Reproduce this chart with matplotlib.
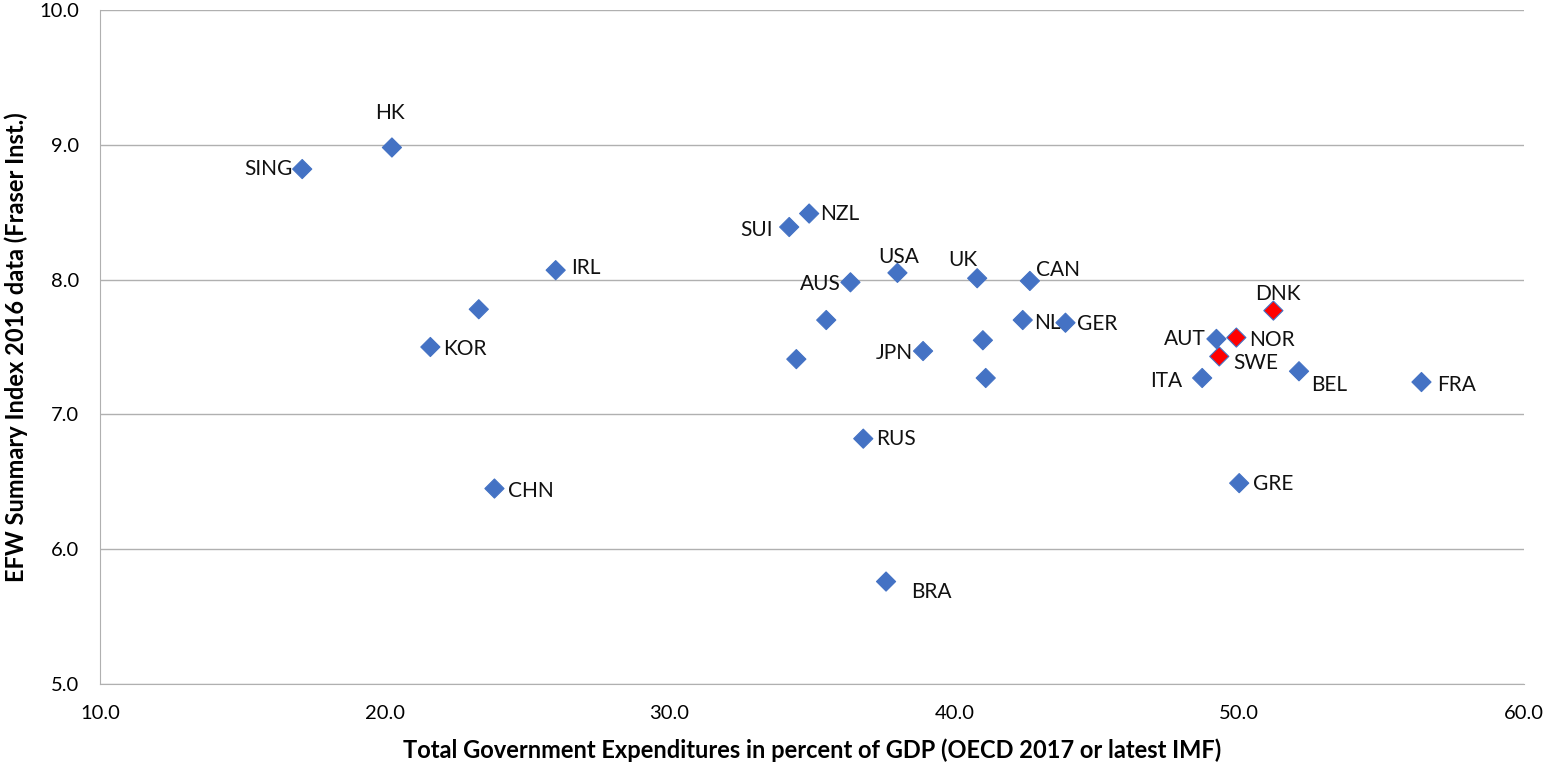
import matplotlib.pyplot as plt

plt.rcParams['font.family'] = ['Lato', 'DejaVu Sans']

# data
countries = ["SING", "HK", "NZL", "SUI", "IRL", "USA", "UK", "CAN", "AUS", "", "DNK",
             "NL", "", "GER", "NOR", "AUT", "", "KOR", "JPN", "SWE", "", "BEL", "ITA",
             "", "FRA", "RUS", "GRE", "CHN", "BRA"]
gov_exp = [17.1, 20.25, 34.9, 34.2, 26.0, 38.0, 40.8, 42.65, 36.35, 23.3, 51.2,
           42.4, 35.5, 43.9, 49.9, 49.2, 41.0, 21.6, 38.9, 49.3, 34.45, 52.1, 48.7,
           41.1, 56.4, 36.8, 50.0, 23.85, 37.6]
efw = [8.82, 8.98, 8.49, 8.39, 8.07, 8.05, 8.01, 7.99, 7.98, 7.78, 7.77,
       7.70, 7.70, 7.68, 7.57, 7.56, 7.55, 7.50, 7.47, 7.43, 7.41, 7.32, 7.27,
       7.27, 7.24, 6.82, 6.49, 6.45, 5.76]
nordic = ["DNK", "NOR", "SWE"]

# label placement (pixel offsets, horizontal alignment)
offsets = {
    "SING": (-10, 0, "right"), "HK": (-2, 34, "center"), "NZL": (11, 0, "left"),
    "SUI": (-16, -3, "right"), "IRL": (15, 2, "left"), "USA": (1, 16, "center"),
    "UK": (-14, 18, "center"), "CAN": (6, 11, "left"), "AUS": (-10, -2, "right"),
    "DNK": (4, 17, "center"), "NL": (11, -3, "left"), "GER": (12, -1, "left"),
    "NOR": (13, -2, "left"), "AUT": (-11, 0, "right"), "KOR": (13, -2, "left"),
    "JPN": (-10, -2, "right"), "SWE": (14, -7, "left"), "BEL": (12, -14, "left"),
    "ITA": (-20, -3, "right"), "FRA": (16, -3, "left"), "RUS": (13, 0, "left"),
    "GRE": (14, -1, "left"), "CHN": (14, -2, "left"), "BRA": (25, -10, "left"),
}

fig = plt.figure(figsize=(15.45, 7.66), dpi=100)
ax = fig.add_axes([100/1545, 1-684/766, 1424/1545, 674/766])

colors = ["#ff0000" if c in nordic else "#4472c4" for c in countries]
ax.scatter(gov_exp, efw, marker="D", s=95, c=colors, edgecolors="#4472c4",
           linewidths=0.8, zorder=3)

for c, x, y in zip(countries, gov_exp, efw):
    if not c:
        continue
    dx, dy, ha = offsets[c]
    ax.annotate(c, (x, y), xytext=(dx, dy), textcoords="offset pixels",
                ha=ha, va="center", fontsize=15, color="#111111")

ax.set_xlim(10, 60)
ax.set_ylim(5, 10)
ax.set_xticks([10, 20, 30, 40, 50, 60])
ax.set_yticks([5, 6, 7, 8, 9, 10])
ax.set_xticklabels([f"{v:.1f}" for v in ax.get_xticks()])
ax.set_yticklabels([f"{v:.1f}" for v in ax.get_yticks()])
ax.tick_params(length=0, labelsize=14.5)
ax.tick_params(axis="x", pad=15)
ax.tick_params(axis="y", pad=15)
ax.grid(axis="y", color="#b0b0b0", linewidth=1)
ax.set_axisbelow(True)
for s in ["top", "right"]:
    ax.spines[s].set_visible(False)
for s in ["left", "bottom"]:
    ax.spines[s].set_color("#b0b0b0")

ax.set_xlabel("Total Government Expenditures in percent of GDP (OECD 2017 or latest IMF)",
              fontsize=17, fontweight="bold", labelpad=12)
ax.set_ylabel("EFW Summary Index 2016 data (Fraser Inst.)",
              fontsize=17, fontweight="bold", labelpad=8)

fig.savefig("out.png", dpi=100)
